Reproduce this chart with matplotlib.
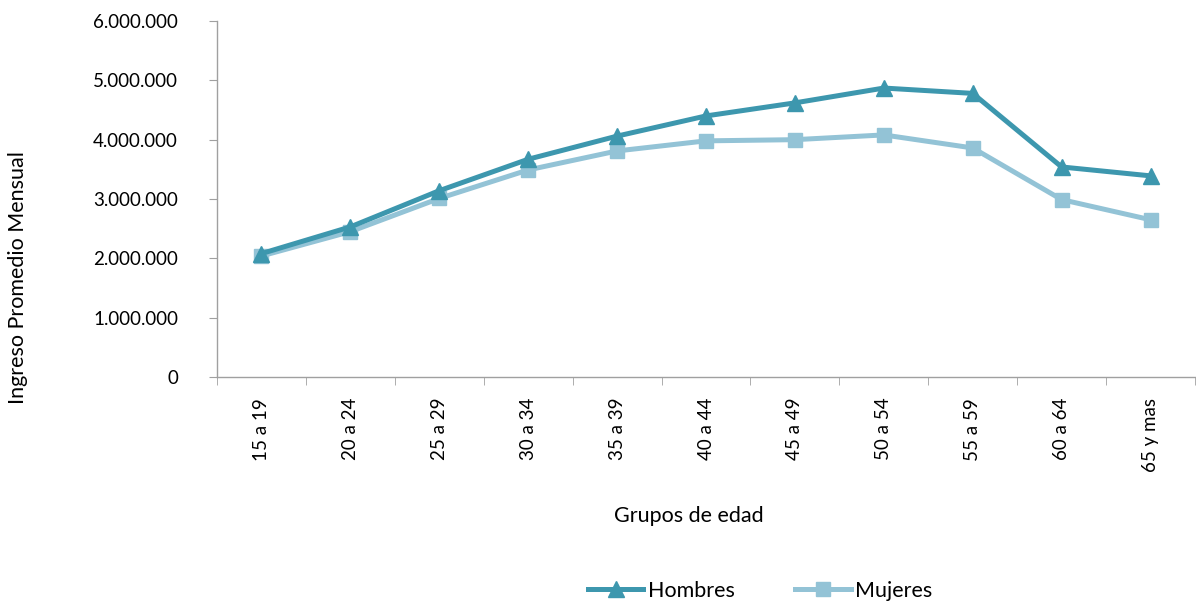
import matplotlib
matplotlib.use("Agg")
import matplotlib.pyplot as plt
from matplotlib.ticker import FuncFormatter, FixedLocator

categories = ["15 a 19", "20 a 24", "25 a 29", "30 a 34", "35 a 39", "40 a 44",
              "45 a 49", "50 a 54", "55 a 59", "60 a 64", "65 y mas"]
hombres = [2080000, 2530000, 3140000, 3670000, 4060000, 4400000,
           4620000, 4870000, 4780000, 3540000, 3390000]
mujeres = [2040000, 2450000, 3010000, 3490000, 3810000, 3980000,
           4000000, 4080000, 3860000, 2990000, 2650000]

plt.rcParams['font.family'] = ['Lato', 'DejaVu Sans']

fig = plt.figure(figsize=(11.96, 6.06), dpi=100)
ax = fig.add_axes([217/1196, 1 - 377/606, (1195-217)/1196, (377-21)/606])

c_h = "#3d97ae"
c_m = "#93c3d6"
x = list(range(len(categories)))
ax.plot(x, hombres, color=c_h, lw=3.6, marker="^", ms=11, mec=c_h, mfc=c_h, label="Hombres", zorder=3)
ax.plot(x, mujeres, color=c_m, lw=3.6, marker="s", ms=10, mec=c_m, mfc=c_m, label="Mujeres", zorder=2)

ax.set_xlim(-0.5, len(categories) - 0.5)
ax.set_ylim(0, 6000000)
ax.set_yticks([0, 1000000, 2000000, 3000000, 4000000, 5000000, 6000000])
ax.yaxis.set_major_formatter(FuncFormatter(lambda v, p: f"{int(v):,}".replace(",", ".")))

ax.set_xticks(x)
ax.set_xticklabels(categories, rotation=90, fontsize=13.5)
ax.tick_params(axis='x', which='major', length=0, pad=15)
ax.xaxis.set_minor_locator(FixedLocator([i - 0.5 for i in range(len(categories) + 1)]))
ax.tick_params(axis='x', which='minor', length=6, color="#a0a0a0", direction='out')
ax.tick_params(axis='y', length=6, color="#a0a0a0", labelsize=13.5, pad=22, direction='out')
for lbl in ax.get_xticklabels():
    lbl.set_verticalalignment('top')

for s in ["top", "right"]:
    ax.spines[s].set_visible(False)
for s in ["left", "bottom"]:
    ax.spines[s].set_color("#a0a0a0")
    ax.spines[s].set_linewidth(1.0)

fig.text(18/1196, 1 - 278/606, "Ingreso Promedio Mensual", rotation=90,
         ha="center", va="center", fontsize=15.5)
fig.text(689/1196, 1 - 516/606, "Grupos de edad", ha="center", va="center", fontsize=15.5)

leg = fig.legend(loc="center", bbox_to_anchor=(760/1196, 1 - 591/606), ncol=2,
                 frameon=False, fontsize=15.5, handlelength=2.6, columnspacing=2.8,
                 handletextpad=0.2)

fig.savefig("out.png", dpi=100)
